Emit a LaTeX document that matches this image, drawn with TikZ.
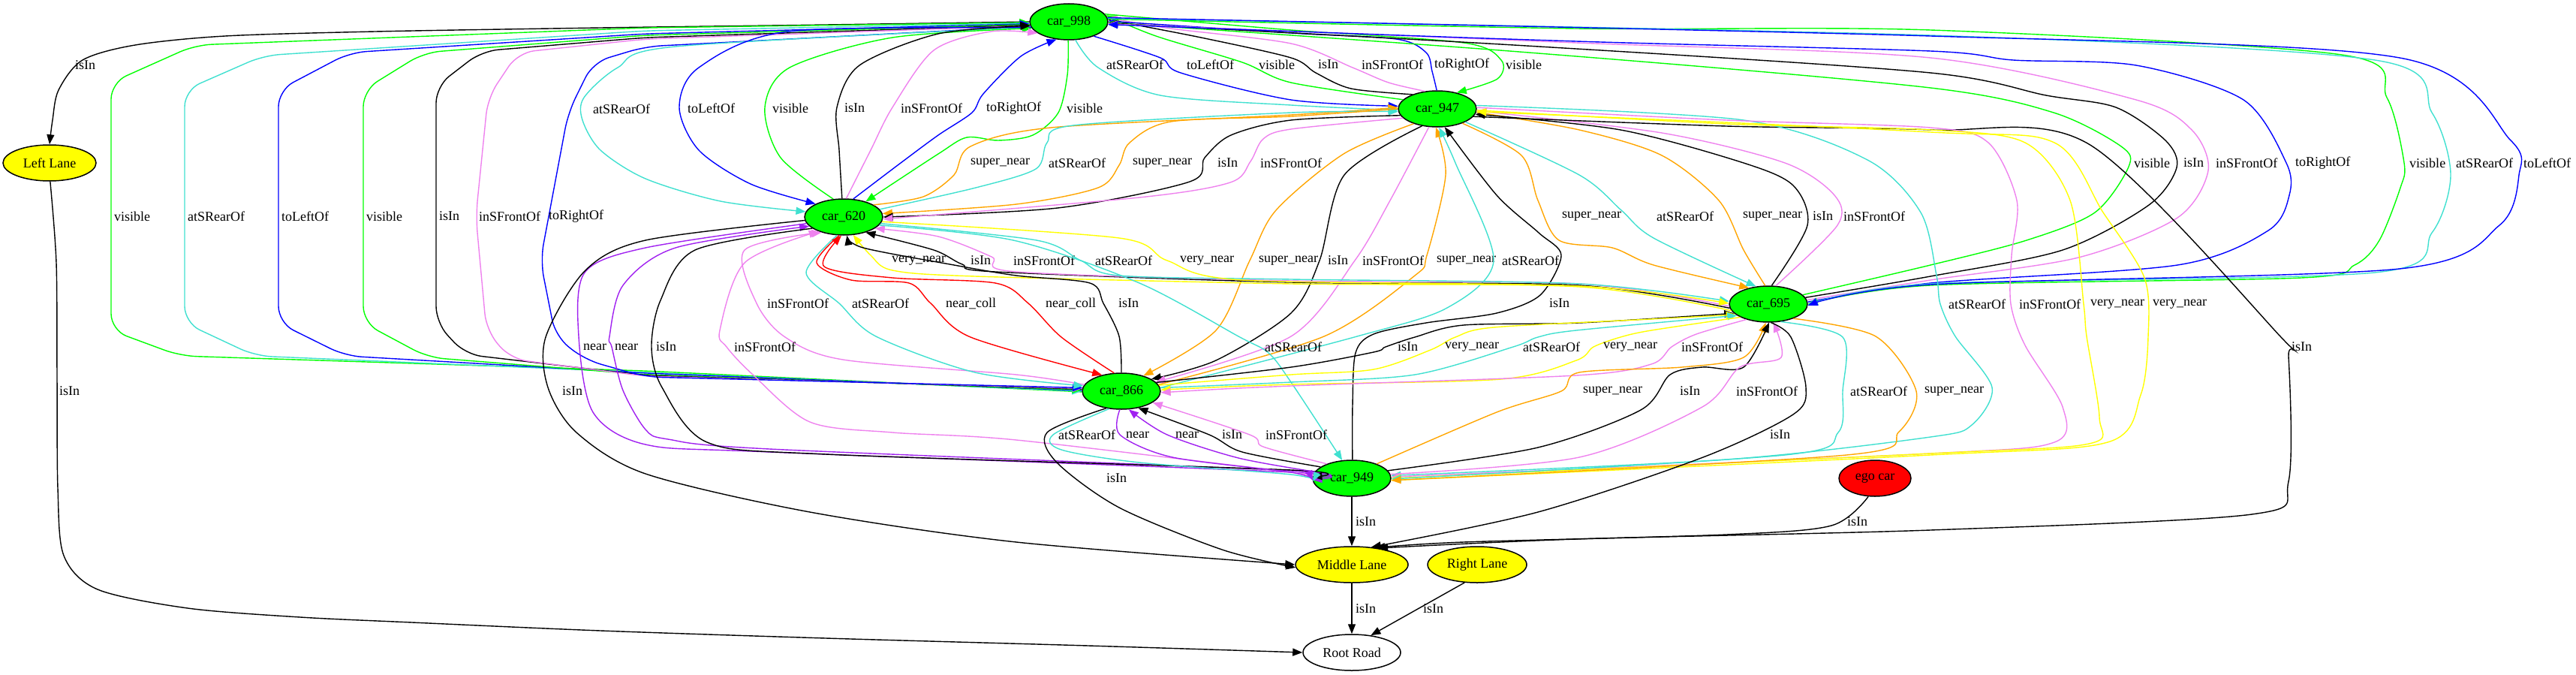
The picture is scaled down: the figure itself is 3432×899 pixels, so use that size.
\documentclass[tikz,border=0pt]{standalone}
\usepackage{fontspec}
\setmainfont{Liberation Serif}
\usetikzlibrary{shapes.geometric,arrows.meta}
\definecolor{gvgreen}{RGB}{0,255,0}
\definecolor{gvturq}{RGB}{64,224,208}
\definecolor{gvblue}{RGB}{0,0,255}
\definecolor{gvviolet}{RGB}{238,130,238}
\definecolor{gvorange}{RGB}{255,165,0}
\definecolor{gvyellow}{RGB}{255,255,0}
\definecolor{gvred}{RGB}{255,0,0}
\definecolor{gvpurple}{RGB}{160,32,240}
\begin{document}
\begin{tikzpicture}[x=1pt,y=-1pt,
  every node/.style={font=\fontsize{18}{21.6}\selectfont},
  gvnode/.style={ellipse,draw,line width=1.5pt,inner sep=0pt,minimum height=48pt},
  car/.style={gvnode,fill=gvgreen,minimum width=104pt},
  lane/.style={gvnode,fill=gvyellow},
  lbl/.style={anchor=west,inner sep=0pt},
  ed/.style={line width=1.4pt,-{Triangle[length=13pt,width=10pt]}},
  de/.style={line width=1.4pt,{Triangle[length=13pt,width=10pt]}-},
  rc/.style={rounded corners=22pt}]
\path[use as bounding box] (0,0) rectangle (3432,899);
% nodes
\node[car] (c998) at (1424,29) {car\_998};
\node[car] (c947) at (1915,145) {car\_947};
\node[car] (c620) at (1124,289) {car\_620};
\node[car] (c695) at (2356,405) {car\_695};
\node[car] (c866) at (1494,521) {car\_866};
\node[car] (c949) at (1801,637) {car\_949};
\node[gvnode,fill=gvred,minimum width=96pt] (ego) at (2498,637) {ego car};
\node[lane,minimum width=124pt] (laneL) at (66,217) {Left Lane};
\node[lane,minimum width=150pt] (laneM) at (1801,752) {Middle Lane};
\node[lane,minimum width=132pt] (laneR) at (1968,752) {Right Lane};
\node[gvnode,fill=white,minimum width=130pt] (road) at (1801,869) {Root Road};
% car_998 -> Left Lane
\draw[ed] plot[smooth] coordinates {(c998.180) (1100,33) (800,37) (500,42) (300,48) (180,60) (110,80) (78,120) (70,160) (laneL.90)};
\node[lbl] (l1) at (100,87) {isIn};
% car_998 <-> car_866, round the left
\draw[de,rc,gvgreen] (c998.181) -- (860,37) -- (260,60) -- (148,110) -- (148,440) -- (240,474) -- (860,494) -- (c866.181);
\node[lbl] (l2) at (152,288) {visible};
\draw[ed,rc,gvturq] (c998.182) -- (860,41) -- (351,74) -- (246,120) -- (246,430) -- (340,474) -- (860,496) -- (c866.180);
\node[lbl] (l3) at (250,288) {atSRearOf};
\draw[de,rc,gvblue] (c998.183) -- (860,45) -- (466,70) -- (371,120) -- (371,430) -- (460,474) -- (860,497) -- (c866.179);
\node[lbl] (l4) at (375,288) {toLeftOf};
\draw[ed,rc,gvgreen] (c998.184) -- (860,47) -- (565,70) -- (484,120) -- (484,430) -- (570,476) -- (860,499) -- (c866.178);
\node[lbl] (l5) at (488,288) {visible};
\draw[de,rc] (c998.185) -- (860,50) -- (642,68) -- (581,115) -- (581,430) -- (620,472) -- (860,500) -- (c866.177);
\node[lbl] (l6) at (585,288) {isIn};
\draw[ed,rc,gvviolet] (c998.186) -- (860,52) -- (690,70) -- (650,130) -- (634,288) -- (648,440) -- (680,478) -- (860,501) -- (c866.176);
\node[lbl] (l7) at (638,288) {inSFrontOf};
\draw[ed,rc,gvblue] (c998.187) -- (860,62) -- (790,83) -- (757,150) -- (720,347) -- (740,448) -- (779,479) -- (860,502) -- (c866.175);
\node[lbl] (l8) at (731,288) {toRightOf};
% car_998 <-> car_620
\draw[ed,gvturq] plot[smooth] coordinates {(c998.188) (900,62) (823,90) (778,130) (776,160) (800,200) (860,238) (960,268) (c620.172)};
\node[lbl] (l9) at (790,145) {atSRearOf};
\draw[ed,gvblue] plot[smooth] coordinates {(c998.189) (1050,42) (931,90) (905,143) (931,200) (1000,245) (c620.155)};
\node[lbl] (l10) at (916,144) {toLeftOf};
\draw[ed,gvgreen] plot[smooth] coordinates {(c620.120) (1040,210) (1019,143) (1052,90) (1189,50) (c998.190)};
\node[lbl] (l11) at (1029,144) {visible};
\draw[ed] plot[smooth] coordinates {(c620.95) (1118,200) (1115,143) (1145,87) (1250,45) (c998.186)};
\node[lbl] (l12) at (1125,144) {isIn};
\draw[ed,gvviolet] plot[smooth] coordinates {(c620.82) (1160,200) (1189,143) (1244,67) (1320,42) (c998.200)};
\node[lbl] (l13) at (1200,144) {inSFrontOf};
\draw[ed,gvblue] plot[smooth] coordinates {(c620.62) (1200,217) (1250,180) (1295,150) (1310,125) (1360,75) (c998.235)};
\node[lbl] (l14) at (1314,144) {toRightOf};
\draw[ed,gvgreen] plot[smooth] coordinates {(c998.268) (1422,100) (1410,150) (1376,180) (1330,187) (1288,183) (1250,205) (c620.35)};
\node[lbl] (l15) at (1421,144) {visible};
% car_998 <-> car_947
\draw[ed,gvturq] plot[smooth] coordinates {(c998.290) (1463,90) (1546,127) (1720,140) (c947.182)};
\node[lbl] (l16) at (1474,86) {atSRearOf};
\draw[ed,gvblue] plot[smooth] coordinates {(c998.330) (1546,77) (1573,97) (1720,133) (c947.176)};
\node[lbl] (l17) at (1581,86) {toLeftOf};
\draw[ed,gvgreen] plot[smooth] coordinates {(c947.165) (1720,110) (1655,83) (1540,48) (c998.10)};
\node[lbl] (l18) at (1677,86) {visible};
\draw[ed] plot[smooth] coordinates {(c947.150) (1800,118) (1753,97) (1720,77) (1600,50) (c998.3)};
\node[lbl] (l19) at (1756,86) {isIn};
\draw[ed,gvviolet] plot[smooth] coordinates {(c947.125) (1850,110) (1802,90) (1720,58) (1560,38) (c998.6)};
\node[lbl] (l20) at (1814,86) {inSFrontOf};
\draw[ed,gvblue] plot[smooth] coordinates {(c947.92) (1908,95) (1900,70) (1860,52) (1720,44) (c998.1)};
\node[lbl] (l21) at (1911,86) {toRightOf};
\draw[ed,gvgreen] plot[smooth] coordinates {(c998.12) (1720,40) (1950,57) (2000,80) (1995,105) (c947.40)};
\node[lbl] (l22) at (2006,86) {visible};
% car_998 <-> car_695, round the right
\draw[de,gvgreen] plot[smooth] coordinates {(c998.359) (2100,75) (2572,117) (2736,150) (2826,195) (2836,222) (2791,283) (2700,320) (2572,353) (c695.15)};
\node[lbl] (l23) at (2843,217) {visible};
\draw[de] plot[smooth] coordinates {(c998.358) (2100,65) (2572,97) (2726,127) (2819,143) (2885,187) (2900,223) (2863,273) (2748,333) (2572,368) (c695.10)};
\node[lbl] (l24) at (2909,217) {isIn};
\draw[de,gvviolet] plot[smooth] coordinates {(c998.357) (2100,57) (2572,77) (2846,133) (2920,173) (2942,227) (2901,290) (2769,343) (2572,373) (c695.6)};
\node[lbl] (l25) at (2952,217) {inSFrontOf};
\draw[de,gvblue] plot[smooth] coordinates {(c998.356) (2100,55) (2572,68) (2682,80) (2846,87) (2989,133) (3046,217) (3050,260) (3022,307) (2901,353) (2572,377) (c695.3)};
\node[lbl] (l26) at (3058,217) {toRightOf};
\draw[ed,gvgreen] plot[smooth] coordinates {(c998.4) (2100,38) (2572,40) (3120,73) (3180,130) (3203,217) (3198,250) (3170,320) (3137,353) (3066,370) (2572,380) (c695.0)};
\node[lbl] (l27) at (3210,217) {visible};
\draw[ed,gvturq] plot[smooth] coordinates {(c998.5) (2572,47) (3164,80) (3240,150) (3265,233) (3240,310) (3164,363) (2572,378) (c695.359)};
\node[lbl] (l28) at (3272,217) {atSRearOf};
\draw[ed,gvblue] plot[smooth] coordinates {(c998.6) (2572,48) (3197,77) (3345,187) (3356,233) (3330,300) (3197,358) (2572,379) (c695.358)};
\node[lbl] (l29) at (3362,217) {toLeftOf};
% car_947 <-> car_620
\draw[ed,gvorange] plot[smooth] coordinates {(c620.22) (1230,262) (1271,233) (1293,195) (1400,170) (1720,153) (c947.178)};
\node[lbl] (l30) at (1293,217) {super\_near};
\draw[ed,gvturq] plot[smooth] coordinates {(c620.12) (1300,250) (1380,225) (1395,190) (1430,167) (1720,150) (c947.184)};
\node[lbl] (l31) at (1397,217) {atSRearOf};
\draw[ed,gvorange] plot[smooth] coordinates {(c947.180) (1720,155) (1560,162) (1505,190) (1491,220) (1463,250) (1354,272) (c620.5)};
\node[lbl] (l32) at (1509,217) {super\_near};
\draw[ed] plot[smooth] coordinates {(c947.190) (1720,160) (1640,180) (1605,210) (1585,242) (1409,277) (c620.0)};
\node[lbl] (l33) at (1622,217) {isIn};
\draw[ed,gvviolet] plot[smooth] coordinates {(c947.195) (1720,172) (1683,185) (1666,215) (1639,243) (1518,263) (c620.357)};
\node[lbl] (l34) at (1679,217) {inSFrontOf};
% car_947 <-> car_695
\draw[ed,gvorange] plot[smooth] coordinates {(c947.330) (2027,207) (2049,267) (2077,320) (2148,330) (2203,353) (c695.140)};
\node[lbl] (l35) at (2081,288) {super\_near};
\draw[ed,gvturq] plot[smooth] coordinates {(c947.335) (2104,233) (2160,280) (2203,317) (c695.125)};
\node[lbl] (l36) at (2207,288) {atSRearOf};
\draw[ed,gvorange] plot[smooth] coordinates {(c695.100) (2323,333) (2290,267) (2214,207) (2104,173) (c947.355)};
\node[lbl] (l37) at (2322,288) {super\_near};
\draw[ed] plot[smooth] coordinates {(c695.80) (2408,300) (2389,247) (2323,217) (2159,173) (c947.352)};
\node[lbl] (l38) at (2415,288) {isIn};
\draw[ed,gvviolet] plot[smooth] coordinates {(c695.68) (2448,300) (2444,260) (2378,217) (2214,177) (c947.357)};
\node[lbl] (l39) at (2456,288) {inSFrontOf};
% car_947 -> Middle Lane
\draw[ed] plot[smooth] coordinates {(c947.348) (2300,168) (2572,173) (2783,192) (3038,448) (3049,475) (3049,641) (3000,685) (2572,706) (2100,718) (laneM.32)};
\node[lbl] (l40) at (3053,462) {isIn};
% car_947 <-> car_949
\draw[ed,gvturq] plot[smooth] coordinates {(c947.5) (2323,160) (2488,213) (2559,283) (2580,367) (2585,405) (2605,448) (2654,516) (2627,566) (2572,582) (2300,612) (c949.4)};
\node[lbl] (l41) at (2596,405) {atSRearOf};
\draw[ed,gvviolet] plot[smooth] coordinates {(c947.2) (2300,160) (2572,170) (2649,190) (2687,267) (2680,340) (2679,405) (2698,460) (2748,542) (2737,589) (2572,604) (c949.2)};
\node[lbl] (l42) at (2690,405) {inSFrontOf};
\draw[ed,gvyellow] plot[smooth] coordinates {(c947.358) (2300,165) (2572,173) (2698,190) (2758,267) (2776,405) (2780,448) (2797,556) (2783,591) (2572,604) (c949.0)};
\node[lbl] (l43) at (2785,405) {very\_near};
\draw[de,gvyellow] plot[smooth] coordinates {(c947.356) (2572,176) (2737,190) (2802,283) (2857,370) (2862,448) (2852,526) (2808,589) (2572,606) (c949.357)};
\node[lbl] (l44) at (2868,405) {very\_near};
% car_947 <-> car_866
\draw[ed,gvorange] plot[smooth] coordinates {(c947.212) (1790,205) (1700,280) (1665,347) (1620,440) (c866.35)};
\node[lbl] (l45) at (1677,347) {super\_near};
\draw[ed] plot[smooth] coordinates {(c947.228) (1791,233) (1758,347) (1720,417) (1620,480) (c866.22)};
\node[lbl] (l46) at (1769,347) {isIn};
\draw[ed,gvviolet] plot[smooth] coordinates {(c947.245) (1852,267) (1805,347) (1720,448) (c866.15)};
\node[lbl] (l47) at (1815,347) {inSFrontOf};
\draw[ed,gvorange] plot[smooth] coordinates {(c866.10) (1764,448) (1885,367) (1901,340) (1926,233) (c947.265)};
\node[lbl] (l48) at (1914,347) {super\_near};
\draw[ed,gvturq] plot[smooth] coordinates {(c866.5) (1808,448) (1928,410) (1990,347) (1939,217) (c947.275)};
\node[lbl] (l49) at (2001,347) {atSRearOf};
\draw[ed] plot[smooth] coordinates {(c949.88) (1802,540) (1806,470) (1830,445) (1900,430) (1994,417) (2052,393) (2080,340) (2050,310) (1994,260) (c947.292)};
\node[lbl] (l50) at (2064,404) {isIn};
% car_620 <-> car_695
\draw[ed,gvyellow] plot[smooth] coordinates {(c695.190) (2104,382) (1720,378) (1299,368) (1189,360) (1160,340) (c620.298)};
\node[lbl] (l51) at (1188,347) {very\_near};
\draw[ed] plot[smooth] coordinates {(c695.186) (2104,380) (1720,376) (1326,362) (1282,352) (1244,333) (c620.325)};
\node[lbl] (l52) at (1293,347) {isIn};
\draw[ed,gvviolet] plot[smooth] coordinates {(c695.183) (2104,378) (1720,374) (1354,362) (1321,342) (1250,315) (c620.340)};
\node[lbl] (l53) at (1350,347) {inSFrontOf};
\draw[ed,gvturq] plot[smooth] coordinates {(c620.350) (1381,320) (1440,347) (1491,367) (1720,372) (2104,378) (c695.176)};
\node[lbl] (l54) at (1459,347) {atSRearOf};
\draw[ed,gvyellow] plot[smooth] coordinates {(c620.353) (1491,317) (1555,347) (1655,373) (2104,381) (c695.179)};
\node[lbl] (l55) at (1572,347) {very\_near};
% car_620 <-> car_866
\draw[ed,gvviolet] plot[smooth] coordinates {(c866.170) (1354,499) (1123,479) (1046,449) (1008,404) (992,333) (c620.215)};
\node[lbl] (l56) at (1022,404) {inSFrontOf};
\draw[ed,gvturq] plot[smooth] coordinates {(c620.250) (1074,363) (1118,404) (1167,448) (1299,496) (c866.172)};
\node[lbl] (l57) at (1135,404) {atSRearOf};
\draw[ed,gvred] plot[smooth] coordinates {(c620.256) (1088,350) (1134,373) (1211,377) (1240,404) (1293,449) (c866.140)};
\node[lbl] (l58) at (1260,404) {near\_coll};
\draw[ed,gvred] plot[smooth] coordinates {(c866.112) (1414,449) (1370,404) (1326,377) (1189,370) (1098,355) (c620.263)};
\node[lbl] (l59) at (1393,404) {near\_coll};
\draw[ed] plot[smooth] coordinates {(c866.90) (1491,448) (1470,404) (1452,377) (1354,367) (1271,353) (1150,330) (c620.280)};
\node[lbl] (l60) at (1490,404) {isIn};
% car_620 -> car_949
\draw[ed,gvturq] plot[smooth] coordinates {(c620.347) (1350,320) (1518,377) (1650,448) (1690,470) (1720,509) (c949.118)};
\node[lbl] (l61) at (1685,462) {atSRearOf};
% car_620 <-> car_949, round the left
\draw[ed,gvpurple] plot[smooth] coordinates {(c620.190) (860,330) (779,363) (771,448) (790,549) (860,592) (1025,602) (1720,629) (c949.182)};
\node[lbl] (l62) at (777,462) {near};
\draw[ed,gvpurple] plot[smooth] coordinates {(c949.180) (1720,627) (1025,598) (890,585) (860,572) (830,520) (815,462) (812,448) (830,380) (900,330) (c620.195)};
\node[lbl] (l63) at (819,462) {near};
\draw[ed] plot[smooth] coordinates {(c620.200) (926,333) (880,400) (868,462) (882,516) (942,589) (1100,605) (1720,626) (c949.178)};
\node[lbl] (l64) at (874,462) {isIn};
\draw[ed,gvviolet] plot[smooth] coordinates {(c949.176) (1720,629) (1354,586) (1189,576) (1079,562) (1003,499) (968,462) (959,440) (992,350) (c620.210)};
\node[lbl] (l65) at (978,462) {inSFrontOf};
% car_620 -> Middle Lane
\draw[ed] plot[smooth] coordinates {(c620.185) (860,320) (780,360) (727,449) (730,516) (768,576) (860,631) (1079,682) (1354,722) (laneM.180)};
\node[lbl] (l66) at (749,521) {isIn};
% car_866 <-> car_949
\draw[ed,gvturq] plot[smooth] coordinates {(c866.235) (1403,579) (1414,599) (1518,616) (1720,632) (c949.185)};
\node[lbl] (l67) at (1410,579) {atSRearOf};
\draw[ed,gvpurple] plot[smooth] coordinates {(c866.265) (1492,579) (1562,609) (1720,629) (c949.183)};
\node[lbl] (l68) at (1500,579) {near};
\draw[ed,gvpurple] plot[smooth] coordinates {(c949.170) (1650,610) (1555,579) (c866.292)};
\node[lbl] (l69) at (1566,579) {near};
\draw[ed] plot[smooth] coordinates {(c949.160) (1655,602) (1611,579) (c866.315)};
\node[lbl] (l70) at (1628,579) {isIn};
\draw[ed,gvviolet] plot[smooth] coordinates {(c949.150) (1683,595) (1665,579) (c866.340)};
\node[lbl] (l71) at (1686,579) {inSFrontOf};
% car_866 -> Middle Lane
\draw[ed] plot[smooth] coordinates {(c866.228) (1395,576) (1408,616) (1491,676) (1628,732) (laneM.183)};
\node[lbl] (l72) at (1474,637) {isIn};
% car_866 <-> car_695
\draw[ed] plot[smooth] coordinates {(c866.14) (1720,489) (1830,469) (1846,462) (1885,449) (1950,433) (2104,430) (c695.195)};
\node[lbl] (l73) at (1862,462) {isIn};
\draw[ed,gvyellow] plot[smooth] coordinates {(c866.9) (1720,499) (1830,492) (1906,466) (1939,449) (1990,436) (2200,425) (c695.198)};
\node[lbl] (l74) at (1925,462) {very\_near};
\draw[ed,gvturq] plot[smooth] coordinates {(c866.5) (1720,509) (1885,499) (2016,462) (2049,449) (2100,440) (c695.200)};
\node[lbl] (l75) at (2029,462) {atSRearOf};
\draw[de,gvyellow] plot[smooth] coordinates {(c866.2) (1720,512) (2000,505) (2100,480) (2123,462) (2159,449) (2200,440) (c695.205)};
\node[lbl] (l76) at (2136,462) {very\_near};
\draw[de,gvviolet] plot[smooth] coordinates {(c866.358) (1720,514) (2100,500) (2200,485) (2227,462) (2260,445) (c695.215)};
\node[lbl] (l77) at (2240,462) {inSFrontOf};
% car_949 <-> car_695
\draw[ed,gvorange] plot[smooth] coordinates {(c949.30) (1994,549) (2080,521) (2104,496) (2241,489) (2323,476) (c695.262)};
\node[lbl] (l78) at (2109,521) {super\_near};
\draw[ed] plot[smooth] coordinates {(c949.12) (2049,596) (2186,546) (2225,499) (2268,489) (2323,489) (c695.272)};
\node[lbl] (l79) at (2238,521) {isIn};
\draw[ed,gvviolet] plot[smooth] coordinates {(c949.6) (2104,609) (2268,542) (2318,489) (2373,476) (c695.285)};
\node[lbl] (l80) at (2313,521) {inSFrontOf};
\draw[ed,gvturq] plot[smooth] coordinates {(c695.305) (2455,449) (2455,521) (2449,576) (2378,606) (c949.359)};
\node[lbl] (l81) at (2465,521) {atSRearOf};
\draw[ed,gvorange] plot[smooth] coordinates {(c695.330) (2499,448) (2553,521) (2530,575) (2460,606) (c949.357)};
\node[lbl] (l82) at (2564,521) {super\_near};
% lanes and road
\draw[ed] plot[smooth] coordinates {(c695.278) (2386,449) (2406,516) (2389,552) (2269,609) (2049,682) (laneM.42)};
\node[lbl] (l83) at (2358,579) {isIn};
\draw[ed] (c949) -- (laneM);
\node[lbl] (l84) at (1806,695) {isIn};
\draw[ed] plot[smooth] coordinates {(ego.250) (2440,700) (2300,712) (1950,722) (laneM.36)};
\node[lbl] (l85) at (2461,695) {isIn};
\draw[ed] (laneM) -- (road);
\node[lbl] (l86) at (1806,811) {isIn};
\draw[ed] (laneR.235) -- (road.42);
\node[lbl] (l87) at (1896,811) {isIn};
\draw[ed] plot[smooth] coordinates {(laneL.272) (75,350) (76,500) (77,650) (85,740) (130,785) (250,810) (400,822) (549,829) (800,840) (1100,850) (1450,860) (road.180)};
\node[lbl] (l88) at (79,521) {isIn};
\end{tikzpicture}
\end{document}
